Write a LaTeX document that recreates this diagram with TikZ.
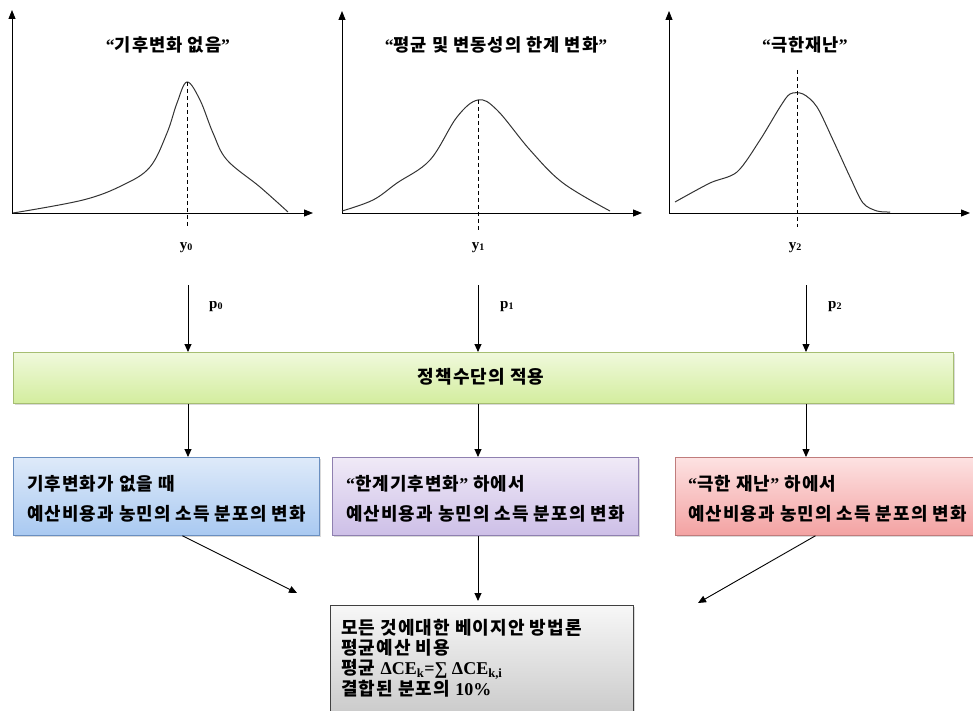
\documentclass[tikz,border=0pt]{standalone}
\usepackage{fontspec}
\setmainfont{Liberation Serif}
\newfontfamily\kr{Noto Sans CJK KR}[LetterSpace=6]
\usetikzlibrary{arrows.meta,shadows}
\newcommand\lat[1]{{\rmfamily\bfseries #1}}
\definecolor{gTop}{HTML}{F0F9DC}
\definecolor{gBot}{HTML}{D3ED9E}
\definecolor{gLine}{HTML}{A6BE72}
\definecolor{bTop}{HTML}{DEEAF9}
\definecolor{bBot}{HTML}{A9C9F1}
\definecolor{bLine}{HTML}{6A8FC0}
\definecolor{pTop}{HTML}{F0EAF7}
\definecolor{pBot}{HTML}{CDBFE7}
\definecolor{pLine}{HTML}{8F80B0}
\definecolor{rTop}{HTML}{FDE2E2}
\definecolor{rBot}{HTML}{F3A2A2}
\definecolor{rLine}{HTML}{C07C7C}
\definecolor{kTop}{HTML}{F7F7F7}
\definecolor{kBot}{HTML}{C6C6C6}
\definecolor{kLine}{HTML}{404040}
\begin{document}
\begin{tikzpicture}[x=1pt,y=-1pt,
  axis/.style={line width=0.9pt,-{Triangle[length=9pt,width=7pt]}},
  curve/.style={line width=1pt,black!80},
  guide/.style={line width=0.7pt,dash pattern=on 4pt off 3pt},
  flow/.style={line width=0.9pt,-{Triangle[length=8pt,width=7pt]}},
  box/.style={draw,line width=0.8pt,inner sep=0pt,anchor=north west,
    drop shadow={shadow xshift=2pt,shadow yshift=-2pt,opacity=0.3}},
  ttl/.style={font=\kr\bfseries\fontsize{17.6}{17.6}\selectfont,inner sep=0pt},
  kt/.style={font=\kr\bfseries\fontsize{17.9}{30}\selectfont,inner sep=0pt,align=left},
  lab/.style={font=\bfseries\fontsize{15}{15}\selectfont,inner sep=0pt}
]
\useasboundingbox (0,0) rectangle (973,711);

% ---------- graph 1
\draw[axis] (12,213) -- (12,10);
\draw[axis] (12,213) -- (313,213);
\draw[curve] plot[smooth,tension=0.6] coordinates {(13,213) (83,200) (123,185) (150,167) (167,133) (177,103) (187,82) (200,100) (213,133) (227,160) (260,187) (288,212)};
\draw[guide] (187,82) -- (187,228);
\node[ttl] (t0) at (168,45) {{\rmfamily “}기후변화 없음{\rmfamily ”}};
\node[lab] (y0) at (186,248) {y\raisebox{-0.5pt}{\fontsize{10}{10}\selectfont 0}};

% ---------- graph 2
\draw[axis] (342,213) -- (342,11);
\draw[axis] (342,213) -- (642,213);
\draw[curve] plot[smooth,tension=0.6] coordinates {(342,211) (373,200) (397,183) (430,160) (457,117) (478,100) (497,110) (530,150) (563,183) (610,211)};
\draw[guide] (478,100) -- (478,230);
\node[ttl] (t1) at (496,45) {{\rmfamily “}평균 및 변동성의 한계 변화{\rmfamily ”}};
\node[lab] (y1) at (478,248) {y\raisebox{-0.5pt}{\fontsize{10}{10}\selectfont 1}};

% ---------- graph 3
\draw[axis] (669,213) -- (669,11);
\draw[axis] (669,213) -- (970,213);
\draw[curve] plot[smooth,tension=0.5] coordinates {(675,202) (710,183) (737,172) (760,140) (780,107) (790,94) (803,94) (817,107) (833,140) (850,177) (863,203) (877,211) (890,212)};
\draw[guide] (797,70) -- (797,227);
\node[ttl] (t2) at (805,45) {{\rmfamily “}극한재난{\rmfamily ”}};
\node[lab] (y2) at (795,248) {y\raisebox{-0.5pt}{\fontsize{10}{10}\selectfont 2}};

% ---------- policy bar
\node[box,draw=gLine,top color=gTop,bottom color=gBot,minimum width=940pt,minimum height=51pt] (pol) at (13,352) {};
\node[font=\kr\bfseries\fontsize{18}{18}\selectfont,inner sep=0pt] (polt) at (481,377) {정책수단의 적용};

\coordinate (a0) at (188,285);
\coordinate (a1) at (478,285);
\coordinate (a2) at (806,285);
\draw[flow] (a0) -- (a0 |- pol.north);
\draw[flow] (a1) -- (a1 |- pol.north);
\draw[flow] (a2) -- (a2 |- pol.north);
\node[lab,anchor=west] (p0) at (209,307) {p\raisebox{-0.5pt}{\fontsize{10}{10}\selectfont 0}};
\node[lab,anchor=west] (p1) at (500,307) {p\raisebox{-0.5pt}{\fontsize{10}{10}\selectfont 1}};
\node[lab,anchor=west] (p2) at (828,307) {p\raisebox{-0.5pt}{\fontsize{10}{10}\selectfont 2}};

% ---------- scenario boxes
\node[box,draw=bLine,top color=bTop,bottom color=bBot,minimum width=306pt,minimum height=78pt] (b1) at (13,457) {};
\node[box,draw=pLine,top color=pTop,bottom color=pBot,minimum width=306pt,minimum height=78pt] (b2) at (332,457) {};
\node[box,draw=rLine,top color=rTop,bottom color=rBot,minimum width=306pt,minimum height=78pt] (b3) at (675,457) {};

\node[kt,anchor=west] (b1t) at ([xshift=14pt,yshift=-2pt]b1.west) {기후변화가 없을 때\\예산비용과 농민의 소득 분포의 변화};
\node[kt,anchor=west] (b2t) at ([xshift=14pt,yshift=-2pt]b2.west) {{\rmfamily “}한계기후변화{\rmfamily ”} 하에서\\예산비용과 농민의 소득 분포의 변화};
\node[kt,anchor=west] (b3t) at ([xshift=13pt,yshift=-2pt]b3.west) {{\rmfamily “}극한 재난{\rmfamily ”} 하에서\\예산비용과 농민의 소득 분포의 변화};

\draw[flow] (a0 |- pol.south) -- (a0 |- b1.north);
\draw[flow] (a1 |- pol.south) -- (a1 |- b2.north);
\draw[flow] (a2 |- pol.south) -- (a2 |- b3.north);

% ---------- result box
\node[box,draw=kLine,top color=kTop,bottom color=kBot,minimum width=303pt,minimum height=120pt] (b4) at (330,605) {};
\node[font=\kr\bfseries\fontsize{18}{20}\selectfont,inner sep=0pt,align=left,anchor=north west] (b4t) at (341,619)
  {모든 것에대한 베이지안 방법론\\평균예산 비용\\평균 \lat{ΔCE\textsubscript{k}=∑ ΔCE\textsubscript{k,i}}\\결합된 분포의 \lat{10\%}};

\coordinate (e0) at (297,593);
\coordinate (e2) at (698,603);
\draw[flow] ([xshift=16pt]b1.south) -- (e0);
\draw[flow] (a1 |- b2.south) -- ([yshift=4pt]a1 |- b4.north);
\draw[flow] ([xshift=-13pt]b3.south) -- (e2);
\end{tikzpicture}
\end{document}
